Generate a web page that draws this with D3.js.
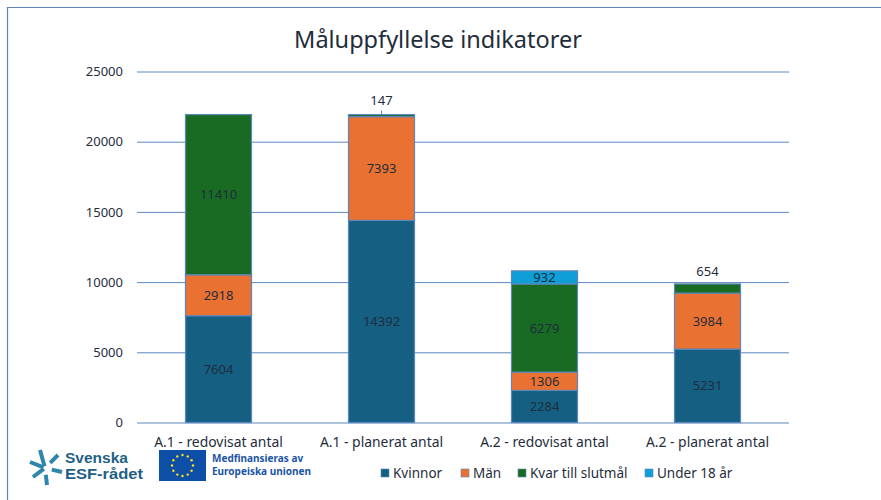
<!DOCTYPE html>
<html>
<head>
<meta charset="utf-8">
<script src="https://cdn.jsdelivr.net/npm/d3@7"></script>
<style>
  html, body { margin: 0; padding: 0; background: #fff; }
  text { font-family: "Noto Sans", "Open Sans", sans-serif; }
</style>
</head>
<body>
<div id="chart"></div>
<script>
const categories = ["A.1 - redovisat antal", "A.1 - planerat antal", "A.2 - redovisat antal", "A.2 - planerat antal"];
const seriesNames = ["Kvinnor", "Män", "Kvar till slutmål", "Under 18 år"];
const kvinnor = [7604, 14392, 2284, 5231];
const man = [2918, 7393, 1306, 3984];
const kvar = [11410, 147, 6279, 654];
const under18 = [0, 0, 932, 0];
const yTicks = [0, 5000, 10000, 15000, 20000, 25000];
const colors = ["#156082", "#E97132", "#196B24", "#0F9ED5"];

const width = 881;
const height = 500;
const textColor = "#1f2d3d";
const lineColor = "#5b87bd";

const svg = d3.select("#chart").append("svg")
  .attr("width", width)
  .attr("height", height)
  .style("display", "block");

// frame, only top and left are visible in the picture
svg.append("line").attr("x1", 7).attr("x2", width).attr("y1", 7.5).attr("y2", 7.5)
  .attr("stroke", lineColor).attr("stroke-width", 1.2);
svg.append("line").attr("x1", 7.5).attr("x2", 7.5).attr("y1", 7).attr("y2", height)
  .attr("stroke", lineColor).attr("stroke-width", 1.2);

svg.append("text")
  .attr("x", 438)
  .attr("y", 48)
  .attr("text-anchor", "middle")
  .attr("font-size", 23.5)
  .attr("fill", textColor)
  .text("Måluppfyllelse indikatorer");

const x = d3.scaleBand().domain(categories).range([137, 789]).paddingInner(0.595).paddingOuter(0.2975);
const y = d3.scaleLinear().domain([0, 25000]).range([422.5, 71.5]);

// gridlines + y labels
const yAxis = d3.axisLeft(y).tickValues(yTicks).tickSize(-652).tickPadding(14).tickFormat(d3.format("d"));
const yG = svg.append("g").attr("transform", "translate(137,0)").call(yAxis);
yG.select(".domain").remove();
yG.selectAll("line").attr("stroke", lineColor).attr("stroke-width", 1);
yG.selectAll("text").attr("font-size", 13).attr("fill", textColor).attr("x", -14);

const table = categories.map((c, i) => ({
  cat: c, Kvinnor: kvinnor[i], "Män": man[i], "Kvar till slutmål": kvar[i], "Under 18 år": under18[i]
}));
const stacked = d3.stack().keys(seriesNames)(table);

const layers = svg.selectAll("g.layer").data(stacked).enter().append("g")
  .attr("class", "layer")
  .attr("fill", (d, i) => colors[i]);

layers.selectAll("rect")
  .data(d => d.filter(p => p[1] > p[0]).map(p => ({ p: p })))
  .enter().append("rect")
  .attr("x", d => x(d.p.data.cat))
  .attr("width", x.bandwidth())
  .attr("y", d => y(d.p[1]))
  .attr("height", d => y(d.p[0]) - y(d.p[1]))
  .attr("stroke", lineColor)
  .attr("stroke-width", 1.2);

// value labels, small segments have theirs lifted above the bar
const labels = [];
stacked.forEach((layer, s) => {
  layer.forEach(p => {
    const v = p[1] - p[0];
    if (v === 0) return;
    const lifted = s === 2 && v < 1000;
    labels.push({
      v: v,
      cat: p.data.cat,
      yPos: lifted ? y(p[1]) - (v < 500 ? 14 : 12) : (y(p[0]) + y(p[1])) / 2
    });
  });
});

svg.selectAll("text.value").data(labels).enter().append("text")
  .attr("class", "value")
  .attr("x", d => x(d.cat) + x.bandwidth() / 2)
  .attr("y", d => d.yPos)
  .attr("dy", "0.35em")
  .attr("text-anchor", "middle")
  .attr("font-size", 13)
  .attr("fill", textColor)
  .text(d => d.v);

// leader line for 147
const leaderX = x(categories[1]) + x.bandwidth() / 2;
svg.append("line")
  .attr("x1", leaderX).attr("x2", leaderX)
  .attr("y1", y(kvinnor[1] + man[1] + kvar[1]) - 4)
  .attr("y2", y(kvinnor[1] + man[1] + kvar[1]))
  .attr("stroke", lineColor);

// category labels
svg.selectAll("text.cat").data(categories).enter().append("text")
  .attr("class", "cat")
  .attr("x", d => x(d) + x.bandwidth() / 2)
  .attr("y", 447)
  .attr("text-anchor", "middle")
  .attr("font-size", 13.9)
  .attr("fill", textColor)
  .text(d => d);

// legend
const legendX = [381, 461, 518, 645];
const legend = svg.selectAll("g.legend").data(seriesNames).enter().append("g")
  .attr("class", "legend")
  .attr("transform", (d, i) => `translate(${legendX[i]},473)`);
legend.append("rect")
  .attr("width", 8).attr("height", 8)
  .attr("y", -4)
  .attr("fill", (d, i) => colors[i])
  .attr("stroke", lineColor).attr("stroke-width", 0.6);
legend.append("text")
  .attr("x", 12)
  .attr("dy", "0.35em")
  .attr("font-size", 13.5)
  .attr("fill", textColor)
  .text(d => d);

// Svenska ESF-rådet logo
const logoBlue = "#1f5f86";
const star = svg.append("g").attr("transform", "translate(45,468)")
  .attr("stroke", "#2f86ad").attr("stroke-width", 4);
[[-5, -18, 0.1], [13, -13, 0.4], [-15, -6, 0.1], [-12, 9, 0.1], [2, 17, 0.4], [17, 4, 0.4]].forEach(a => {
  star.append("line").attr("x1", a[0] * a[2]).attr("y1", a[1] * a[2]).attr("x2", a[0]).attr("y2", a[1]);
});
svg.append("text").attr("x", 65).attr("y", 463).attr("font-size", 13.8).attr("font-weight", 700)
  .attr("textLength", 63).attr("lengthAdjust", "spacingAndGlyphs")
  .style("font-family", "'Liberation Sans'").attr("fill", logoBlue).text("Svenska");
svg.append("text").attr("x", 65).attr("y", 479).attr("font-size", 13.8).attr("font-weight", 700)
  .attr("textLength", 78).attr("lengthAdjust", "spacingAndGlyphs")
  .style("font-family", "'Liberation Sans'").attr("fill", logoBlue).text("ESF-rådet");

// EU flag
svg.append("rect").attr("x", 159).attr("y", 450).attr("width", 47).attr("height", 31).attr("fill", "#0d4ea6");
d3.range(12).forEach(i => {
  const a = i * Math.PI / 6;
  svg.append("circle")
    .attr("cx", 182.5 + 10.5 * Math.cos(a))
    .attr("cy", 465.5 + 10.5 * Math.sin(a))
    .attr("r", 1.2)
    .attr("fill", "#ffe11a");
});
svg.append("text").attr("x", 212).attr("y", 462).attr("font-size", 10).attr("font-weight", 700)
  .attr("fill", "#1b55a5").text("Medfinansieras av");
svg.append("text").attr("x", 212).attr("y", 475).attr("font-size", 10).attr("font-weight", 700)
  .attr("fill", "#1b55a5").text("Europeiska unionen");
</script>
</body>
</html>
